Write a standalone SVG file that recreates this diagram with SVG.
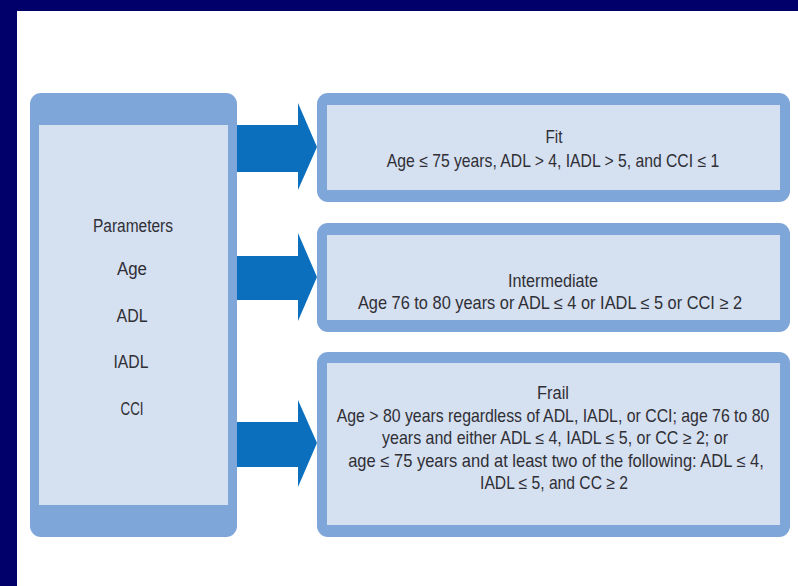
<svg xmlns="http://www.w3.org/2000/svg" width="798" height="586" viewBox="0 0 798 586">
<style>
.outer{fill:#7fa6d9}
.inner{fill:#d5e0f1}
.arrow{fill:#0b6fbe}
text{font-family:"Liberation Sans",Arial,sans-serif;font-size:17.5px;fill:#2f2f35;text-anchor:middle}
</style>
<rect x="0" y="0" width="798" height="586" fill="#ffffff"/>
<rect x="0" y="0" width="798" height="11" fill="#01006a"/>
<rect x="0" y="0" width="17" height="586" fill="#01006a"/>
<g id="connectors">
<path class="arrow" d="M236,125 H298 V103 L317,147 L298,190 V172 H236 Z"/>
<path class="arrow" d="M236,256 H298 V233 L317,277 L298,321 V300 H236 Z"/>
<path class="arrow" d="M236,422 H298 V400 L317,443 L298,487 V467 H236 Z"/>
</g>
<g id="parameters">
<rect class="outer" x="30" y="93" width="207" height="444" rx="11"/>
<rect class="inner" x="39" y="125" width="189" height="380"/>
<text x="133" y="232" textLength="80" lengthAdjust="spacingAndGlyphs">Parameters</text>
<text x="132" y="275" textLength="30" lengthAdjust="spacingAndGlyphs">Age</text>
<text x="132" y="322" textLength="31" lengthAdjust="spacingAndGlyphs">ADL</text>
<text x="131" y="368" textLength="35" lengthAdjust="spacingAndGlyphs">IADL</text>
<text x="132" y="415" textLength="23" lengthAdjust="spacingAndGlyphs">CCI</text>
</g>
<g id="fit">
<rect class="outer" x="317" y="93" width="473" height="109" rx="11"/>
<rect class="inner" x="327" y="105" width="453" height="85"/>
<text x="554" y="143" textLength="17" lengthAdjust="spacingAndGlyphs">Fit</text>
<text transform="translate(553,167) scale(0.85,1)" textLength="391" lengthAdjust="spacingAndGlyphs">Age ≤ 75 years, ADL &gt; 4, IADL &gt; 5, and CCI ≤ 1</text>
</g>
<g id="intermediate">
<rect class="outer" x="317" y="223" width="473" height="109" rx="11"/>
<rect class="inner" x="327" y="235" width="453" height="85"/>
<text x="553" y="287" textLength="90" lengthAdjust="spacingAndGlyphs">Intermediate</text>
<text transform="translate(550,309) scale(0.85,1)" textLength="452" lengthAdjust="spacingAndGlyphs">Age 76 to 80 years or ADL ≤ 4 or IADL ≤ 5 or CCI ≥ 2</text>
</g>
<g id="frail">
<rect class="outer" x="317" y="352" width="473" height="185" rx="11"/>
<rect class="inner" x="327" y="363" width="453" height="162"/>
<text x="553" y="399" textLength="32" lengthAdjust="spacingAndGlyphs">Frail</text>
<text transform="translate(553,422) scale(0.85,1)" textLength="509" lengthAdjust="spacingAndGlyphs">Age &gt; 80 years regardless of ADL, IADL, or CCI; age 76 to 80</text>
<text transform="translate(555,444) scale(0.85,1)" textLength="407" lengthAdjust="spacingAndGlyphs">years and either ADL ≤ 4, IADL ≤ 5, or CC ≥ 2; or</text>
<text transform="translate(556,467) scale(0.85,1)" textLength="489" lengthAdjust="spacingAndGlyphs">age ≤ 75 years and at least two of the following: ADL ≤ 4,</text>
<text transform="translate(554,489) scale(0.85,1)" textLength="174" lengthAdjust="spacingAndGlyphs">IADL ≤ 5, and CC ≥ 2</text>
</g>
</svg>
